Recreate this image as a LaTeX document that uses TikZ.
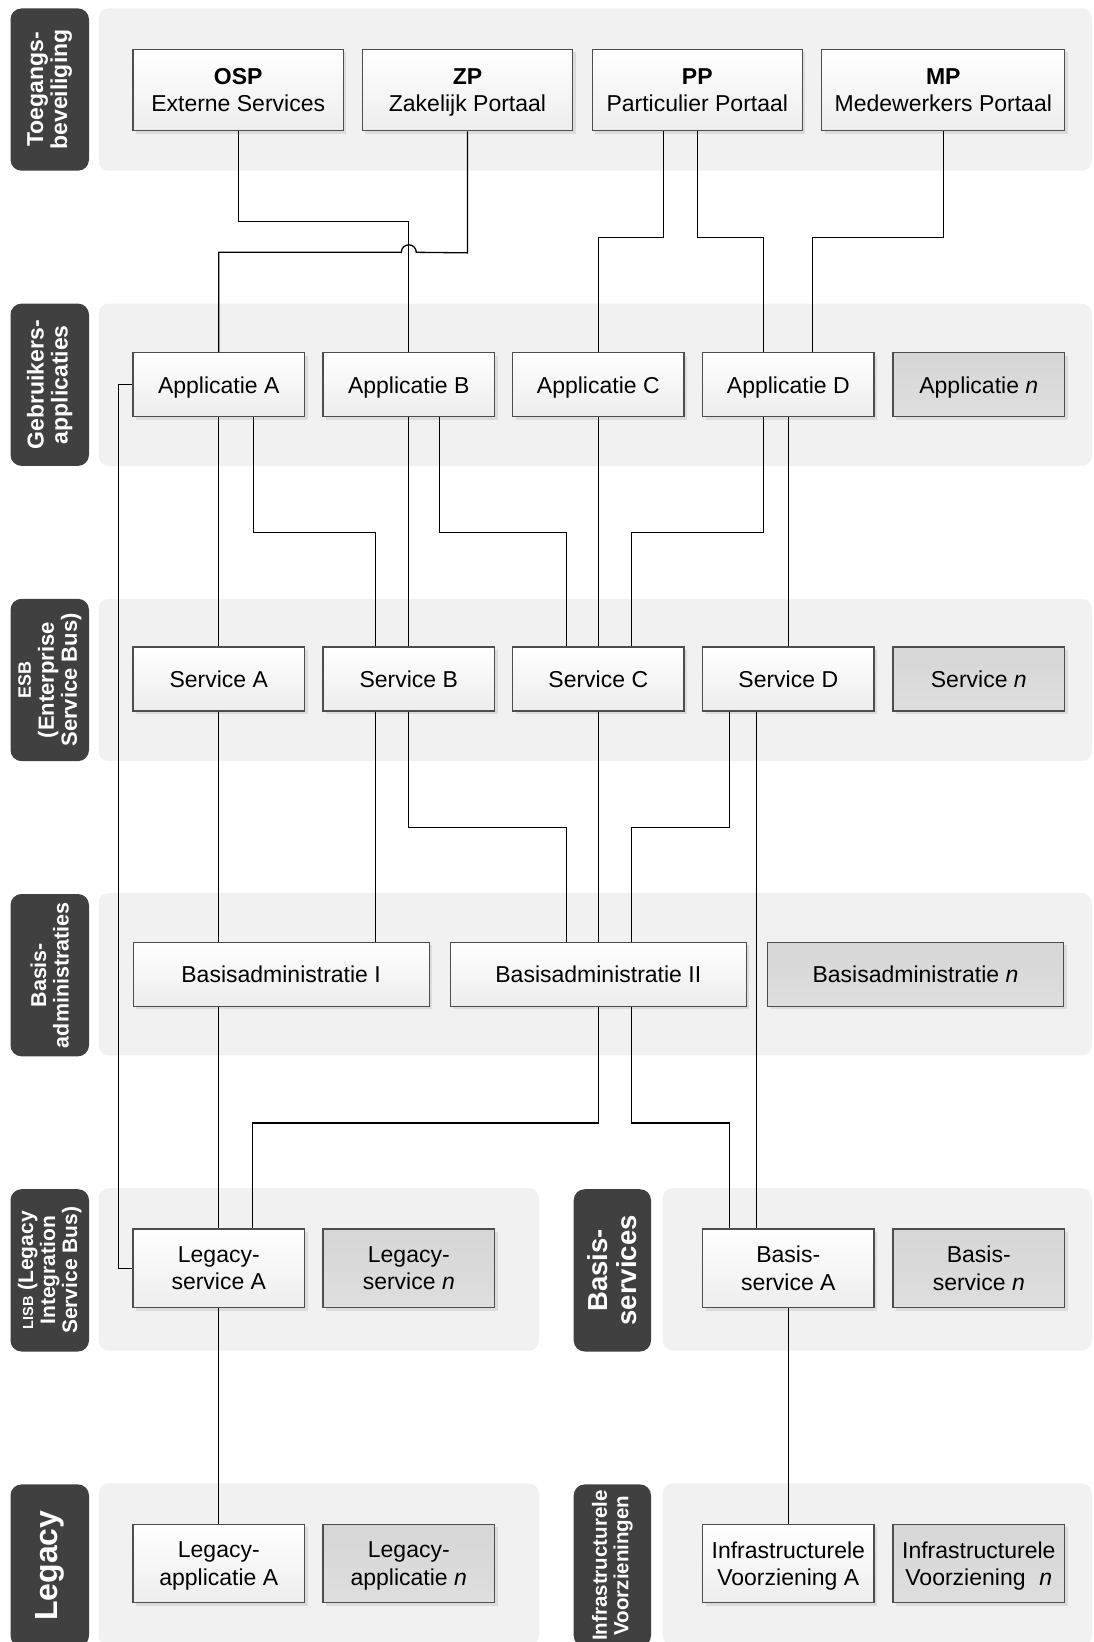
\documentclass[tikz,border=0pt]{standalone}
\usepackage{fontspec}
\setmainfont{Liberation Sans}
\usetikzlibrary{shadows,calc}

\definecolor{bandgray}{HTML}{F1F1F1}
\definecolor{lanegray}{HTML}{404040}
\definecolor{boxline}{HTML}{4D4D4D}

\tikzset{
  band/.style={fill=bandgray, rounded corners=10pt},
  lane/.style={fill=lanegray, rounded corners=11pt, text=white, align=center,
    rotate=90, minimum width=162.3pt, minimum height=78.5pt, inner sep=0pt},
  lanefont/.style 2 args={font=\bfseries\fontsize{#1}{#2}\selectfont},
  comp/.style={draw=boxline, line width=1.2pt, top color=white, bottom color=black!7,
    align=center, inner sep=0pt, text depth=0pt, font=\fontsize{23}{27.5}\selectfont,
    drop shadow={shadow xshift=3pt, shadow yshift=-3pt, opacity=0.18}},
  portal/.style={minimum width=210.3pt, minimum height=81.7pt},
  std/.style={minimum width=171.5pt, minimum height=64pt},
  tallbox/.style={minimum width=171.5pt, minimum height=78.5pt},
  admin/.style={minimum width=296pt, minimum height=64pt},
  placeholder/.style={top color=black!16, bottom color=black!13},
  link/.style={draw=black, line width=1.3pt},
}

\begin{document}
\begin{tikzpicture}[x=1pt, y=-1pt]
\clip (0,0) rectangle (1094,1642);

% background bands
\foreach \t in {8.4, 303.6, 598.8, 893.0}
  \fill[band] (98.5,\t) rectangle (1092,\t+162.3);
\fill[band] (98.5,1188.2) rectangle (539,1350.5);
\fill[band] (662.7,1188.2) rectangle (1092,1350.5);
\fill[band] (98.5,1483.4) rectangle (539,1645.7);
\fill[band] (662.7,1483.4) rectangle (1092,1645.7);

% layer labels
\node[lane, lanefont={23}{24}] (lToeg) at (49.75,89.55) {Toegangs-\\beveiliging};
\node[lane, lanefont={23}{24}] (lGebr) at (49.75,384.75) {Gebruikers-\\applicaties};
\node[lane, lanefont={22}{23}] (lEsb) at (49.75,679.95) {{\fontsize{18}{19}\selectfont ESB}\\(Enterprise\\Service Bus)};
\node[lane, lanefont={21.5}{22.5}] (lBadm) at (49.75,975.15) {Basis-\\administraties};
\node[lane, lanefont={21}{22}] (lLisb) at (49.75,1270.35) {{\fontsize{14.5}{15}\selectfont LISB} (Legacy\\Integration\\Service Bus)};
\node[lane, lanefont={32}{33}] (lLeg) at (49.75,1565.55) {Legacy};
\node[lane, lanefont={27.5}{29}, minimum height=77.3pt] (lBserv) at (612.35,1270.35) {Basis-\\services};
\node[lane, lanefont={20.5}{21.5}, minimum height=77.3pt] (lInfra) at (612.35,1565.55) {Infrastructurele\\Voorzieningen};

% portals
\node[comp, portal] (osp) at (238.2,90) {\textbf{OSP}\\Externe Services};
\node[comp, portal] (zp) at (467.5,90) {\textbf{ZP}\\Zakelijk Portaal};
\node[comp, portal] (pp) at (697.3,90) {\textbf{PP}\\Particulier Portaal};
\node[comp, portal, minimum width=243pt] (mp) at (943.3,90) {\textbf{MP}\\Medewerkers Portaal};

% user applications
\node[comp, std] (appA) at (218.8,384.7) {Applicatie A};
\node[comp, std] (appB) at (408.8,384.7) {Applicatie B};
\node[comp, std] (appC) at (598.3,384.7) {Applicatie C};
\node[comp, std] (appD) at (788.3,384.7) {Applicatie D};
\node[comp, std, placeholder] (appN) at (978.8,384.7) {Applicatie \textit{n}};

% services
\node[comp, std] (serA) at (218.8,678.9) {Service A};
\node[comp, std] (serB) at (408.8,678.9) {Service B};
\node[comp, std] (serC) at (598.3,678.9) {Service C};
\node[comp, std] (serD) at (788.3,678.9) {Service D};
\node[comp, std, placeholder] (serN) at (978.8,678.9) {Service \textit{n}};

% base registrations
\node[comp, admin] (baI) at (281.1,974.1) {Basisadministratie I};
\node[comp, admin] (baII) at (598.3,974.1) {Basisadministratie II};
\node[comp, admin, placeholder] (baN) at (915.5,974.1) {Basisadministratie \textit{n}};

% legacy services and base services
\node[comp, tallbox] (legA) at (218.8,1268.3) {Legacy-\\service A};
\node[comp, tallbox, placeholder] (legN) at (408.8,1268.3) {Legacy-\\service \textit{n}};
\node[comp, tallbox] (bsA) at (788.3,1268.3) {Basis-\\service A};
\node[comp, tallbox, placeholder] (bsN) at (978.8,1268.3) {Basis-\\service \textit{n}};

% legacy applications and infrastructure
\node[comp, tallbox] (lappA) at (218.8,1563.5) {Legacy-\\applicatie A};
\node[comp, tallbox, placeholder] (lappN) at (408.8,1563.5) {Legacy-\\applicatie \textit{n}};
\node[comp, tallbox] (infA) at (788.3,1563.5) {Infrastructurele\\Voorziening A};
\node[comp, tallbox, placeholder] (infN) at (978.8,1563.5) {Infrastructurele\\Voorziening\hspace{0.6em}\textit{n}};

% portals -> applications
\draw[link] (osp.south) -- ++(0,90) -| (appB.north);
\draw[link] (zp.south) -- ++(0,121.4) -- (416.3,252.3)
  arc[start angle=0, end angle=180, radius=7.5pt] -| (appA.north);
\draw[link] ([xshift=-33.6pt]pp.south) -- ++(0,105.7) -| (appC.north);
\draw[link] (pp.south) -- ++(0,105.7) -| ([xshift=-25pt]appD.north);
\draw[link] (mp.south) -- ++(0,105.7) -| ([xshift=24pt]appD.north);

% applications -> services
\draw[link] (appA.south) -- (serA.north);
\draw[link] ([xshift=34.5pt]appA.south) -- ++(0,115.1) -| ([xshift=-33pt]serB.north);
\draw[link] (appB.south) -- (serB.north);
\draw[link] ([xshift=31pt]appB.south) -- ++(0,115.1) -| ([xshift=-32pt]serC.north);
\draw[link] (appC.south) -- (serC.north);
\draw[link] ([xshift=-25pt]appD.south) -- ++(0,115.1) -| ([xshift=33pt]serC.north);
\draw[link] (appD.south) -- (serD.north);
\draw[link] (appA.west) -- ++(-13.7,0) |- (legA.west);

% services -> base registrations
\draw[link] (serA.south) -- ([xshift=-62.3pt]baI.north);
\draw[link] ([xshift=-33pt]serB.south) -- ([xshift=94.7pt]baI.north);
\draw[link] (serB.south) -- ++(0,116.2) -| ([xshift=-32pt]baII.north);
\draw[link] (serC.south) -- (baII.north);
\draw[link] ([xshift=-58.6pt]serD.south) -- ++(0,116.2) -| ([xshift=33pt]baII.north);
\draw[link] ([xshift=-32pt]serD.south) -- ([xshift=-32pt]bsA.north);

% base registrations -> legacy and base services
\draw[link] ([xshift=-62.3pt]baI.south) -- (legA.north);
\draw[link] (baII.south) -- ++(0,116.3) -| ([xshift=33.5pt]legA.north);
\draw[link] ([xshift=33pt]baII.south) -- ++(0,116.3) -| ([xshift=-58.6pt]bsA.north);

% lowest layer
\draw[link] (legA.south) -- (lappA.north);
\draw[link] (bsA.south) -- (infA.north);
\end{tikzpicture}
\end{document}
